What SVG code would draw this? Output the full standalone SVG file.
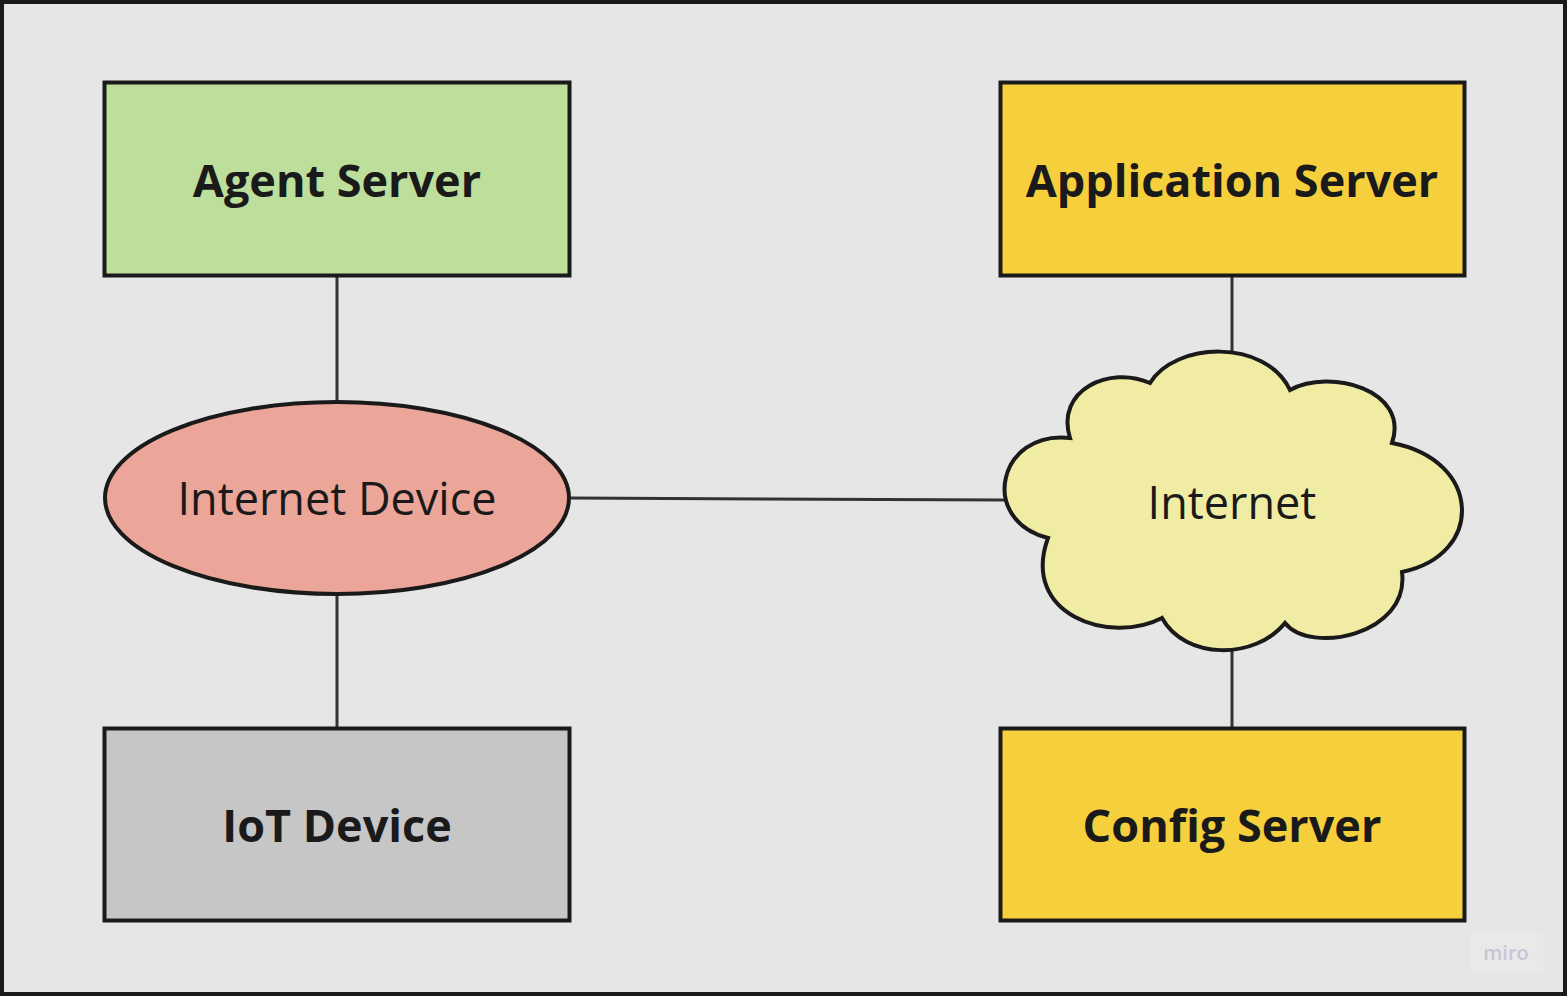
<svg xmlns="http://www.w3.org/2000/svg" width="1567" height="996" viewBox="0 0 1567 996">
<style>
.box{stroke:#1a1a1a;stroke-width:4}
.b{font-family:"Open Sans","Liberation Sans",sans-serif;font-weight:700;font-size:45px;fill:#1a1a1a;text-anchor:middle}
.r{font-family:"Open Sans","Liberation Sans",sans-serif;font-weight:400;font-size:45px;fill:#1a1a1a;text-anchor:middle}
.c{stroke:#333;stroke-width:3;fill:none}
</style>
<rect x="2" y="2" width="1563" height="992" fill="#e6e6e6" stroke="#1a1a1a" stroke-width="4"/>
<g id="connectors">
<line class="c" x1="337" y1="275" x2="337" y2="402"/>
<line class="c" x1="337" y1="594" x2="337" y2="728"/>
<line class="c" x1="570" y1="498" x2="1005" y2="500"/>
<line class="c" x1="1232" y1="275" x2="1232" y2="352"/>
<line class="c" x1="1232" y1="650" x2="1232" y2="728"/>
</g>
<g id="agent-server">
<rect class="box" x="104.5" y="82.5" width="465" height="193" fill="#bddf9b"/>
<text class="b" x="337" y="197">Agent Server</text>
</g>
<g id="application-server">
<rect class="box" x="1000.5" y="82.5" width="464" height="193" fill="#f6cf3d"/>
<text class="b" x="1232" y="197">Application Server</text>
</g>
<g id="internet-device">
<ellipse class="box" cx="337" cy="498" rx="232" ry="96" fill="#eca599"/>
<text class="r" x="337" y="515">Internet Device</text>
</g>
<g id="internet">
<path class="box" fill="#f1eca4" d="M1150,383 C1175,342 1265,338 1290,390 C1330,368 1410,390 1392,443 C1482,460 1485,555 1402,572 C1410,635 1310,655 1285,623 C1255,660 1185,660 1162,618 C1110,645 1020,615 1048,538 C978,520 998,430 1070,438 C1055,390 1110,365 1150,383 Z"/>
<text class="r" x="1232" y="519">Internet</text>
</g>
<g id="iot-device">
<rect class="box" x="104.5" y="728.5" width="465" height="192" fill="#c6c6c6"/>
<text class="b" x="337" y="842">IoT Device</text>
</g>
<g id="config-server">
<rect class="box" x="1000.5" y="728.5" width="464" height="192" fill="#f6cf3d"/>
<text class="b" x="1232" y="842">Config Server</text>
</g>
<g id="logo">
<rect x="1470" y="933" width="73" height="39" fill="#e9e9e9"/>
<text x="1506" y="960" font-family="'Open Sans','Liberation Sans',sans-serif" font-size="20" font-weight="600" fill="#c8c5d5" text-anchor="middle">miro</text>
</g>
</svg>
